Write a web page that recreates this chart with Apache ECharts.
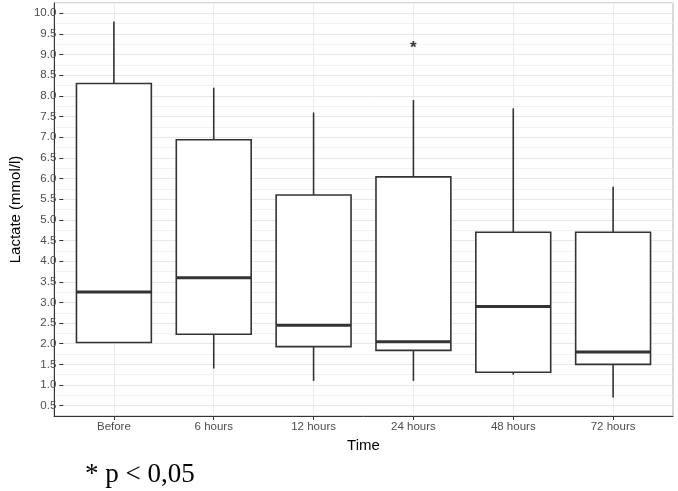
<!DOCTYPE html>
<html>
<head>
<meta charset="utf-8">
<script src="https://cdn.jsdelivr.net/npm/echarts@6/dist/echarts.min.js"></script>
<style>
html,body{margin:0;padding:0;background:#fff;}
#chart{width:678px;height:491px;}
</style>
</head>
<body>
<div id="chart"></div>
<script>
// ---- data ----
const categories = ['Before', '6 hours', '12 hours', '24 hours', '48 hours', '72 hours'];
const whiskerLow  = [2.03, 1.40, 1.10, 1.10, 1.25, 0.70];
const q1          = [2.03, 2.23, 1.93, 1.84, 1.31, 1.50];
const median      = [3.25, 3.60, 2.45, 2.05, 2.90, 1.80];
const q3          = [8.30, 6.94, 5.60, 6.04, 4.70, 4.70];
const whiskerHigh = [9.80, 8.20, 7.60, 7.90, 7.70, 5.80];
const yTickValues = ['0.5','1.0','1.5','2.0','2.5','3.0','3.5','4.0','4.5','5.0','5.5','6.0','6.5','7.0','7.5','8.0','8.5','9.0','9.5','10.0'];
const annotations = [{ category: '24 hours', value: 9.2, text: '*' }];
const footnote = '* p < 0,05';

// ---- build ----
const boxData = categories.map((c, i) => [i + 1, whiskerLow[i], q1[i], median[i], q3[i], whiskerHigh[i]]);
const starData = annotations.map(a => [categories.indexOf(a.category) + 1, a.value]);

const DARK = '#333333';
const chart = echarts.init(document.getElementById('chart'), null, { renderer: 'canvas' });

const option = {
  animation: false,
  backgroundColor: '#ffffff',
  textStyle: { fontFamily: '"Liberation Sans", Arial, sans-serif' },
  grid: [
    { left: 54, right: 5, top: 3, bottom: 75, show: true, borderColor: '#b3b3b3', borderWidth: 1, backgroundColor: 'transparent' },
    { left: 54, right: 5, top: 13.3, bottom: 85.3 },
    { left: 113.9, right: 64.9, top: 3, bottom: 75 }
  ],
  xAxis: [
    { gridIndex: 0, type: 'value', min: 0.4, max: 6.6, axisLine: { show: true, onZero: false, lineStyle: { color: DARK, width: 1 } },
      axisTick: { show: false }, axisLabel: { show: false }, splitLine: { show: false } },
    { gridIndex: 1, type: 'value', min: 0, max: 1, show: false },
    { gridIndex: 2, type: 'value', min: 1, max: 6, interval: 1,
      axisLine: { show: false },
      axisTick: { show: true, length: 4, lineStyle: { color: DARK } },
      axisLabel: { show: true, margin: 5, fontSize: 11.5, color: '#4d4d4d', formatter: v => categories[Math.round(v) - 1] || '' },
      splitLine: { show: true, lineStyle: { color: '#ebebeb', width: 1 } },
      name: 'Time', nameLocation: 'middle', nameGap: 19, nameTextStyle: { fontSize: 15, color: '#000' } }
  ],
  yAxis: [
    { gridIndex: 0, type: 'value', min: 0.25, max: 10.25, interval: 0.5,
      axisLine: { show: true, lineStyle: { color: DARK, width: 1 } },
      axisTick: { show: false }, axisLabel: { show: false },
      splitLine: { show: true, lineStyle: { color: '#f1f1f1', width: 1 } } },
    { gridIndex: 1, type: 'value', min: 0.5, max: 10, interval: 0.5,
      axisLine: { show: false },
      axisTick: { show: true, length: 4, lineStyle: { color: DARK } },
      axisLabel: { show: true, margin: 7, fontSize: 11.5, color: '#4d4d4d', formatter: v => yTickValues[Math.round(v / 0.5) - 1] || '' },
      splitLine: { show: true, lineStyle: { color: '#e8e8e8', width: 1 } },
      name: 'Lactate (mmol/l)', nameLocation: 'middle', nameGap: 33, nameRotate: 90, nameTextStyle: { fontSize: 15, color: '#000' } },
    { gridIndex: 2, type: 'value', min: 0.25, max: 10.25, show: false }
  ],
  series: [
    {
      type: 'custom',
      xAxisIndex: 0, yAxisIndex: 0,
      data: boxData,
      encode: { x: 0, y: [1, 2, 3, 4, 5] },
      z: 5,
      renderItem: function (params, api) {
        const x = api.value(0);
        const lo = api.value(1), a = api.value(2), m = api.value(3), b = api.value(4), hi = api.value(5);
        const half = api.size([0.75, 0])[0] / 2;
        const pHi = api.coord([x, hi]);
        const pB = api.coord([x, b]);
        const pM = api.coord([x, m]);
        const pA = api.coord([x, a]);
        const pLo = api.coord([x, lo]);
        const lw = 1.6;
        return {
          type: 'group',
          children: [
            { type: 'line', shape: { x1: pHi[0], y1: pHi[1], x2: pB[0], y2: pB[1] }, style: { stroke: DARK, lineWidth: lw } },
            { type: 'line', shape: { x1: pA[0], y1: pA[1], x2: pLo[0], y2: pLo[1] }, style: { stroke: DARK, lineWidth: lw } },
            { type: 'rect', shape: { x: pB[0] - half, y: pB[1], width: 2 * half, height: pA[1] - pB[1] }, style: { fill: '#ffffff', stroke: DARK, lineWidth: lw } },
            { type: 'line', shape: { x1: pM[0] - half, y1: pM[1], x2: pM[0] + half, y2: pM[1] }, style: { stroke: DARK, lineWidth: 3 } }
          ]
        };
      }
    },
    {
      type: 'scatter',
      xAxisIndex: 0, yAxisIndex: 0,
      data: starData,
      symbolSize: 0,
      z: 6,
      label: { show: true, position: 'inside', offset: [0, 2], formatter: () => annotations[0].text, fontSize: 17, fontWeight: 'bold', color: '#000' }
    }
  ],
  graphic: [
    { type: 'text', left: 85, top: 461, style: { text: footnote, font: '27px "Liberation Serif", "Times New Roman", serif', fill: '#000' } }
  ]
};
chart.setOption(option);
</script>
</body>
</html>
